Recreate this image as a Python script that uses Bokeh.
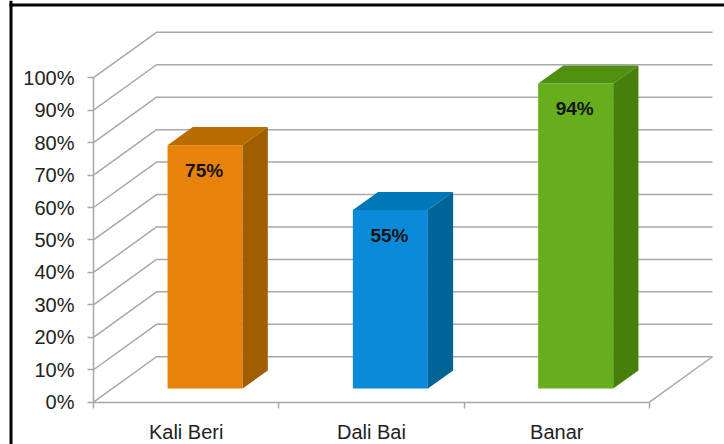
from bokeh.embed import file_html
from bokeh.models import BoxAnnotation, FixedTicker, Range1d
from bokeh.plotting import figure
from bokeh.resources import INLINE

villages = ["Kali Beri", "Dali Bai", "Banar"]
shares = [75, 55, 94]
front_colors = ["#E8820A", "#0A8AD8", "#67AE1E"]
top_colors = ["#B86C00", "#0078B8", "#4F9010"]
side_colors = ["#A05E00", "#006496", "#468008"]
pct_ticks = list(range(0, 101, 10))

FONT = "Liberation Sans"
GRID = "#a8a8a8"
# oblique offset of the back wall, in x and y data units
SKEW_X, SKEW_Y = 0.34, 14.0
# depth of the front and back faces of each column, as a fraction of the floor
D_FRONT, D_BACK = 0.30, 0.70
BAR_W = 0.405
N = len(villages)

p = figure(width=724, height=444, output_backend="svg", toolbar_location=None,
           x_range=Range1d(-0.502, 3.405), y_range=Range1d(-13.04, 123.8),
           min_border_left=0, min_border_right=0, min_border_top=0, min_border_bottom=0,
           x_axis_location="below", y_axis_location="left")
p.outline_line_color = None
p.grid.visible = False

# y axis, pinned to the front-left corner of the floor
ya = p.yaxis[0]
ya.fixed_location = 0
ya.ticker = FixedTicker(ticks=pct_ticks)
ya.bounds = (0, 100)
ya.major_label_overrides = {v: f"{v}%" for v in pct_ticks}
ya.major_label_text_font = FONT
ya.major_label_text_font_size = "20px"
ya.major_label_text_color = "#222222"
ya.major_label_standoff = 13
ya.axis_line_color = GRID
ya.axis_line_width = 1.5
ya.major_tick_line_color = GRID
ya.major_tick_line_width = 1.5
ya.major_tick_out = 6
ya.major_tick_in = 0
ya.minor_tick_line_color = None

# x axis: boundary ticks between categories, labels at the centres
xa = p.xaxis[0]
xa.fixed_location = 0
xa.ticker = FixedTicker(ticks=[i + 0.5 for i in range(N)], minor_ticks=list(range(N + 1)))
xa.bounds = (0, N)
xa.major_label_overrides = {i + 0.5: name for i, name in enumerate(villages)}
xa.major_label_text_font = FONT
xa.major_label_text_font_size = "20px"
xa.major_label_text_color = "#222222"
xa.major_label_standoff = 13
xa.axis_line_color = GRID
xa.axis_line_width = 1.5
xa.major_tick_line_color = None
xa.minor_tick_line_color = GRID
xa.minor_tick_line_width = 1.5
xa.minor_tick_out = 6
xa.minor_tick_in = 0

# back wall and side wall gridlines
for v in pct_ticks:
    p.line([0, SKEW_X, N + SKEW_X], [v, v + SKEW_Y, v + SKEW_Y], line_color=GRID, line_width=1.5)
# right-hand floor edge
p.line([N, N + SKEW_X], [0, SKEW_Y], line_color=GRID, line_width=1.5)

# columns drawn as three faces
for i, v in enumerate(shares):
    cx = i + 0.5
    xl = cx - BAR_W / 2 + D_FRONT * SKEW_X
    xr = xl + BAR_W
    dx = (D_BACK - D_FRONT) * SKEW_X
    dy = (D_BACK - D_FRONT) * SKEW_Y
    y0 = D_FRONT * SKEW_Y
    y1 = v + y0
    p.patch([xl, xr, xr, xl], [y0, y0, y1, y1], fill_color=front_colors[i], line_color=None)
    p.patch([xl, xr, xr + dx, xl + dx], [y1, y1, y1 + dy, y1 + dy], fill_color=top_colors[i], line_color=None)
    p.patch([xr, xr + dx, xr + dx, xr], [y0, y0 + dy, y1 + dy, y1], fill_color=side_colors[i], line_color=None)
    p.text([xl + BAR_W / 2], [y1], text=[f"{v}%"], text_font_size="19px", text_font_style="bold",
           text_color="#141414", text_align="center", text_baseline="middle",
           text_font={"value": FONT}, y_offset=25, x_offset=-1)

# picture border on the left and top of the page
for kw in (dict(left=9, right=12, top=444, bottom=0), dict(left=9, right=724, top=441, bottom=438)):
    p.add_layout(BoxAnnotation(left_units="screen", right_units="screen", top_units="screen",
                               bottom_units="screen", fill_color="#000000", fill_alpha=1,
                               line_color=None, level="overlay", **kw))

open("out.html", "w").write(file_html(p, INLINE))
